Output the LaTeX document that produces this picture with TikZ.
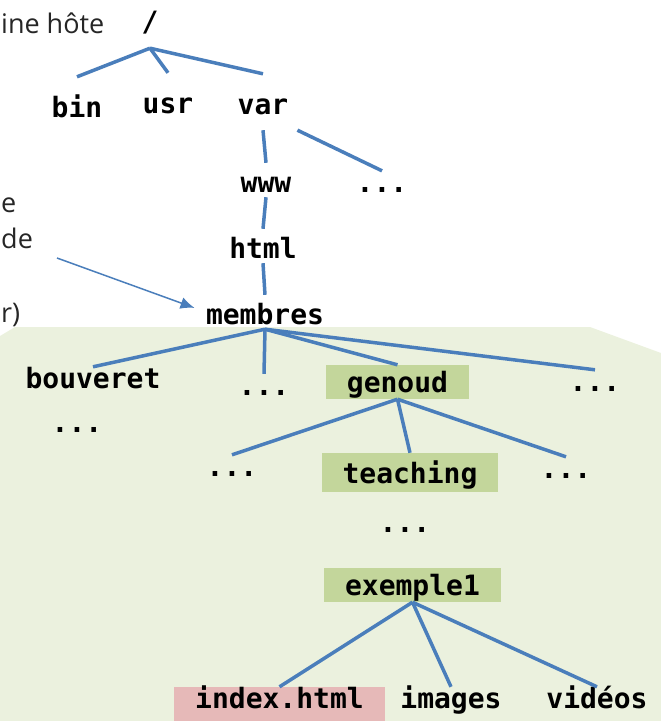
\documentclass[tikz,border=0pt]{standalone}
\usepackage{fontspec}
\setmainfont{Open Sans}
\setmonofont{DejaVu Sans Mono}
\usetikzlibrary{arrows.meta}
\definecolor{linkblue}{HTML}{4A7EBB}
\definecolor{zonegreen}{HTML}{EBF1DE}
\definecolor{boxgreen}{HTML}{C3D69B}
\definecolor{boxpink}{HTML}{E6B9B8}
\begin{document}
\begin{tikzpicture}[x=1pt,y=-1pt,
    dir/.style={font=\ttfamily\bfseries\fontsize{28}{30}\selectfont, inner sep=0pt, anchor=base, text height=21pt, text depth=5pt},
    tall/.style={text height=29pt},
    top/.style={text height=40pt, text depth=16pt, inner xsep=9pt},
    folder/.style={dir, fill=boxgreen, inner xsep=21pt, text height=27pt, text depth=7pt},
    target/.style={folder, fill=boxpink},
    note/.style={font=\fontsize{27}{30}\selectfont, text=black!85, inner sep=0pt, anchor=base west},
    link/.style={draw=linkblue, line width=3.5pt},
    pointer/.style={draw=linkblue, line width=1.5pt, -{Latex[length=14pt,width=12pt]}, shorten >=12pt}]
\useasboundingbox (0,0) rectangle (661,721);
\fill[zonegreen] (0,336) -- (15,327) -- (590,327) -- (661,353) -- (661,721) -- (0,721) -- cycle;
\node[note] (host) at (1,33) {ine hôte};
\node[note] (noteA) at (1,212) {e};
\node[note] (noteB) at (1,248) {de};
\node[note] (noteC) at (1,322) {r)};
\node[dir, text depth=17pt] (root) at (150,31) {/};
\node[dir,top] (bin) at (77,117) {bin};
\node[dir,top] (usr) at (168,113) {usr};
\node[dir,top] (var) at (263,114) {var};
\node[dir,tall] (www) at (266,192) {www};
\node[dir] (vardots) at (382,192) {...};
\node[dir,tall] (html) at (263,258) {html};
\node[dir,tall] (membres) at (265,324) {membres};
\node[dir] (bouveret) at (93,388) {bouveret};
\node[dir] (bdots) at (77,432) {...};
\node[dir] (mdots) at (264,395) {...};
\node[folder] (genoud) at (397.5,392) {genoud};
\node[dir] (rdots) at (595,391) {...};
\node[dir] (gldots) at (232,476) {...};
\node[folder, text height=30pt, text depth=9pt] (teaching) at (410,483) {teaching};
\node[dir] (grdots) at (566,478) {...};
\node[dir] (tdots) at (405,532) {...};
\node[folder] (exemple) at (412.5,595) {exemple1};
\node[target, text height=21pt, text depth=14pt] (index) at (279.5,708) {index.html};
\node[dir] (images) at (451,708) {images};
\node[dir] (videos) at (597,708) {vidéos};
\foreach \c in {bin,usr,var}
    \draw[link] (root.south) -- (\c.north);
\draw[link] (var.south) -- (www.north);
\draw[link] (var.south east) -- (vardots.north);
\draw[link] (www.south) -- (html.north);
\draw[link] (html.south) -- (membres.north);
\foreach \c in {bouveret,mdots,genoud,rdots}
    \draw[link] (membres.south) -- (\c.north);
\foreach \c in {gldots,teaching,grdots}
    \draw[link] (genoud.south) -- (\c.north);
\foreach \c in {index,images,videos}
    \draw[link] (exemple.south) -- (\c.north);
\coordinate (tail) at (57,258);
\draw[pointer] (tail) -- (membres.west);
\end{tikzpicture}
\end{document}
